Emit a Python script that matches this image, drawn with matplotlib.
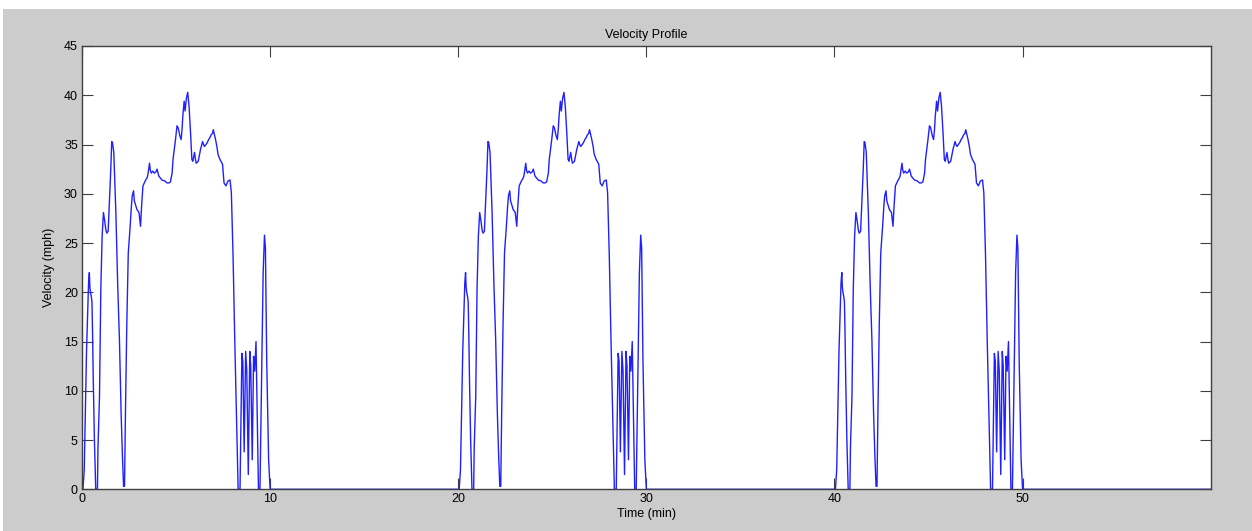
import numpy as np
import matplotlib.pyplot as plt
from matplotlib.patches import Rectangle

# one drive cycle (minutes, mph), repeated every 20 minutes
cycle_t = [0.00, 0.05, 0.12, 0.18, 0.24, 0.30, 0.35, 0.39, 0.42, 0.45, 0.50, 0.53,
           0.56, 0.60, 0.66, 0.73, 0.82, 0.85, 0.93, 1.00, 1.07, 1.14, 1.21, 1.27,
           1.32, 1.39, 1.46, 1.53, 1.58, 1.62, 1.69, 1.80, 1.90, 1.99, 2.08, 2.15,
           2.21, 2.26, 2.31, 2.38, 2.46, 2.56, 2.62, 2.67, 2.74, 2.78, 2.81, 2.92,
           3.03, 3.11, 3.17, 3.24, 3.36, 3.45, 3.49, 3.55, 3.59, 3.63, 3.68, 3.76,
           3.84, 3.92, 3.99, 4.08, 4.25, 4.40, 4.52, 4.62, 4.70, 4.79, 4.84, 4.97,
           5.05, 5.11, 5.20, 5.27, 5.32, 5.36, 5.40, 5.43, 5.48, 5.55, 5.62, 5.69,
           5.77, 5.84, 5.89, 5.94, 5.98, 6.03, 6.07, 6.18, 6.30, 6.41, 6.46, 6.51,
           6.59, 6.66, 6.73, 6.80, 6.87, 6.93, 6.98, 7.04, 7.10, 7.17, 7.23, 7.33,
           7.47, 7.55, 7.65, 7.76, 7.87, 7.94, 8.03, 8.12, 8.22, 8.30, 8.40, 8.50,
           8.55, 8.62, 8.70, 8.76, 8.84, 8.92, 8.97, 9.05, 9.12, 9.18, 9.25, 9.30,
           9.38, 9.46, 9.55, 9.63, 9.70, 9.75, 9.82, 9.92, 10.00]
cycle_v = [0.0, 0.0, 2.0, 8.0, 14.0, 18.0, 21.0, 22.0, 20.5, 20.0, 19.5, 19.0,
           16.0, 11.0, 5.0, 0.0, 0.0, 4.3, 9.4, 20.3, 25.7, 28.1, 27.2, 26.3,
           26.0, 26.2, 29.4, 32.5, 35.3, 35.2, 34.2, 28.1, 20.6, 15.2, 7.7, 3.3,
           0.3, 0.3, 7.8, 16.6, 24.0, 26.7, 28.6, 29.8, 30.3, 29.3, 29.1, 28.4,
           28.1, 26.7, 28.8, 30.8, 31.3, 31.6, 31.8, 32.6, 33.1, 32.4, 32.1, 32.3,
           32.1, 32.2, 32.5, 31.8, 31.4, 31.3, 31.1, 31.1, 31.2, 32.1, 33.5, 35.5,
           36.9, 36.7, 35.9, 35.5, 36.6, 37.9, 38.8, 39.4, 38.4, 39.7, 40.3, 38.9,
           36.2, 33.5, 33.3, 33.8, 34.2, 33.5, 33.1, 33.3, 34.5, 35.3, 35.0, 34.8,
           35.0, 35.2, 35.5, 35.7, 36.0, 36.1, 36.5, 36.0, 35.5, 34.8, 34.0, 33.5,
           33.0, 31.1, 30.8, 31.3, 31.4, 30.1, 23.7, 15.2, 6.7, 0.0, 0.0, 13.8,
           13.0, 3.8, 14.0, 12.0, 1.5, 14.0, 12.5, 3.0, 13.5, 12.0, 15.0, 9.0,
           0.0, 0.0, 12.0, 22.0, 25.8, 24.5, 13.0, 3.0, 0.0]
cycle_starts = [0, 20, 40]
t_end = 60

t = np.concatenate([np.array(cycle_t) + s for s in cycle_starts] + [[t_end]])
v = np.concatenate([np.array(cycle_v) for s in cycle_starts] + [[0.0]])

plt.rcParams['font.family'] = ['Liberation Sans', 'DejaVu Sans']

fig = plt.figure(figsize=(12.52, 5.31), dpi=100, facecolor='white')
fig.patches.append(Rectangle((3 / 1252, 0), 1, 1 - 9 / 531, transform=fig.transFigure,
                             facecolor='#cccccc', edgecolor='none', zorder=-1))

ax = fig.add_axes([82 / 1252, 1 - 489.3 / 531, (1210.7 - 82) / 1252, (489.3 - 46) / 531])
ax.plot(t, v, color='#2020ff', lw=1.0)

ax.set_xlim(0, 60)
ax.set_ylim(0, 45)
ax.set_xticks([0, 10, 20, 30, 40, 50])
ax.set_yticks(np.arange(0, 46, 5))
ax.tick_params(direction='in', length=8, width=0.8, color='#404040',
               top=True, right=True, labelsize=9, pad=3)
for s in ax.spines.values():
    s.set_color('#404040')
    s.set_linewidth(1.0)

ax.set_title('Velocity Profile', fontsize=9, pad=6)
ax.set_xlabel('Time (min)', fontsize=9, labelpad=2)
ax.set_ylabel('Velocity (mph)', fontsize=9, labelpad=6)

fig.savefig('out.png', dpi=100, facecolor=fig.get_facecolor())
